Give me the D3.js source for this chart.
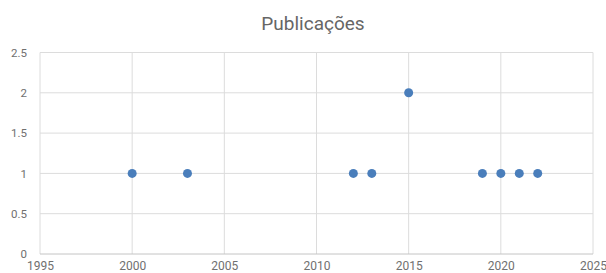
<!DOCTYPE html>
<html>
<head>
<meta charset="utf-8">
<script src="https://cdn.jsdelivr.net/npm/d3@7"></script>
<style>
  html, body { margin: 0; padding: 0; background: #fff; }
  svg { display: block; font-family: Roboto, "Noto Sans", sans-serif; }
</style>
</head>
<body>
<div id="chart"></div>
<script>
'use strict';

// data
var years = [2000, 2003, 2012, 2013, 2015, 2019, 2020, 2021, 2022];
var counts = [1, 1, 1, 1, 2, 1, 1, 1, 1];
var xTicks = [1995, 2000, 2005, 2010, 2015, 2020, 2025];
var yTicks = [0, 0.5, 1, 1.5, 2, 2.5];
var title = 'Publicações';

var width = 606, height = 273;
var margin = { top: 52.5, right: 13, bottom: 19, left: 40 };

var svg = d3.select('#chart').append('svg')
  .attr('width', width)
  .attr('height', height);

var x = d3.scaleLinear().domain([1995, 2025]).range([margin.left, width - margin.right]);
var y = d3.scaleLinear().domain([0, 2.5]).range([height - margin.bottom, margin.top]);

// title
svg.append('text')
  .attr('x', 313)
  .attr('y', 30)
  .attr('text-anchor', 'middle')
  .attr('font-size', '19px')
  .attr('fill', '#666')
  .text(title);

// vertical grid
svg.append('g')
  .selectAll('line')
  .data(xTicks)
  .enter().append('line')
  .attr('x1', function (d) { return x(d); })
  .attr('x2', function (d) { return x(d); })
  .attr('y1', y(2.5))
  .attr('y2', y(0))
  .attr('stroke', '#dcdcdc')
  .attr('stroke-width', 1);

// horizontal grid
svg.append('g')
  .selectAll('line')
  .data(yTicks)
  .enter().append('line')
  .attr('x1', x(1995))
  .attr('x2', x(2025))
  .attr('y1', function (d) { return y(d); })
  .attr('y2', function (d) { return y(d); })
  .attr('stroke', function (d) { return d === 0 ? '#c4c4c4' : '#dcdcdc'; })
  .attr('stroke-width', 1);

// y labels
var yAxis = d3.axisLeft(y).tickValues(yTicks).tickSize(0).tickPadding(0)
  .tickFormat(function (d) { return String(d); });
var gy = svg.append('g')
  .attr('transform', 'translate(' + (margin.left - 13) + ',0)')
  .call(yAxis);
gy.select('.domain').remove();
gy.selectAll('text')
  .attr('font-size', '11.5px')
  .attr('font-family', 'Roboto, sans-serif')
  .attr('fill', '#707070');

// x labels
var xAxis = d3.axisBottom(x).tickValues(xTicks).tickSize(0).tickPadding(0)
  .tickFormat(d3.format('d'));
var gx = svg.append('g')
  .attr('transform', 'translate(0,' + (y(0) + 7) + ')')
  .call(xAxis);
gx.select('.domain').remove();
gx.selectAll('text')
  .attr('font-size', '12px')
  .attr('font-family', 'Roboto, sans-serif')
  .attr('fill', '#707070');

// points
svg.append('g')
  .selectAll('circle')
  .data(years)
  .enter().append('circle')
  .attr('cx', function (d) { return x(d); })
  .attr('cy', function (d, i) { return y(counts[i]); })
  .attr('r', 4.5)
  .attr('fill', '#4a7ebb');
</script>
</body>
</html>
